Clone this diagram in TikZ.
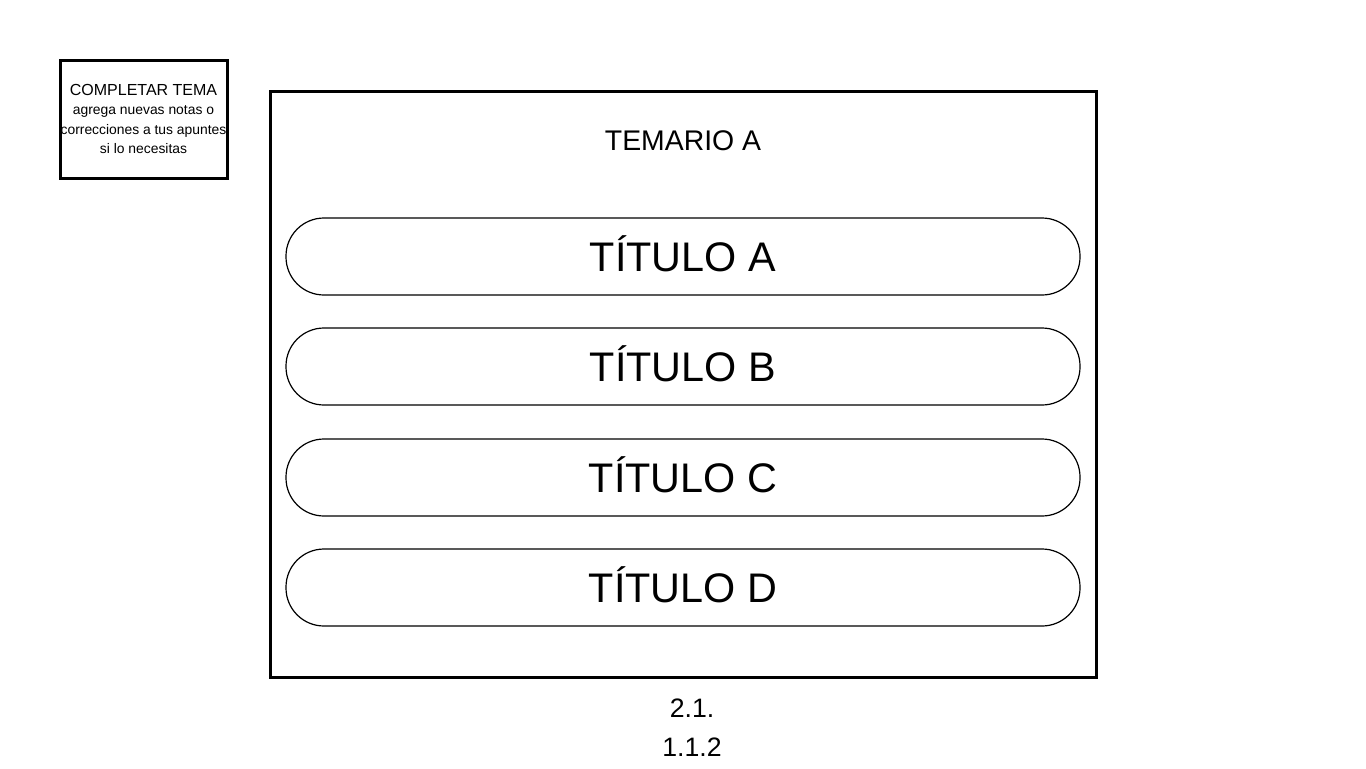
\documentclass[tikz,border=0pt]{standalone}
\usepackage{fontspec}
\setmainfont{Liberation Sans}
\usepackage{tikz}
\usetikzlibrary{positioning}
\tikzstyle{aviso} = [draw, rectangle, line width=2.25pt, minimum width=125.25pt, minimum height=88.5pt, inner sep=0pt, align=center, font=\fontsize{10.4}{14.4}\selectfont]
\tikzstyle{marco} = [draw, rectangle, line width=2.25pt, minimum width=619.5pt, minimum height=439.5pt]
\tikzstyle{titulo} = [draw, rectangle, rounded corners=28.5pt, line width=0.9pt, minimum width=595.5pt, minimum height=57.75pt, text height=22.2pt, text depth=0pt, font=\fontsize{31}{36}\selectfont]

\begin{document}
\begin{tikzpicture}[x=0.75pt, y=-0.75pt, node distance=82.5pt]
\useasboundingbox (0,0) rectangle (1366,768);

\node [aviso] (aviso) at (143.5,119) {{\fontsize{12}{14.4}\selectfont COMPLETAR TEMA}\\
agrega nuevas notas o\\ correcciones a tus apuntes\\ si lo necesitas};

\node [marco] (temario) at (683,384) {};
\node (cabecera) at (683,141) {\fontsize{21.3}{24}\selectfont TEMARIO A};

\node [titulo] (tituloA) at (683,256.5) {TÍTULO A};
\node [titulo, below of=tituloA] (tituloB) {TÍTULO B};
\node [titulo, below of=tituloB, yshift=-0.75pt] (tituloC) {TÍTULO C};
\node [titulo, below of=tituloC] (tituloD) {TÍTULO D};

\node [align=center, font=\fontsize{20}{29.25}\selectfont] (numero) at (692,727.5) {2.1.\\1.1.2};

\end{tikzpicture}
\end{document}
